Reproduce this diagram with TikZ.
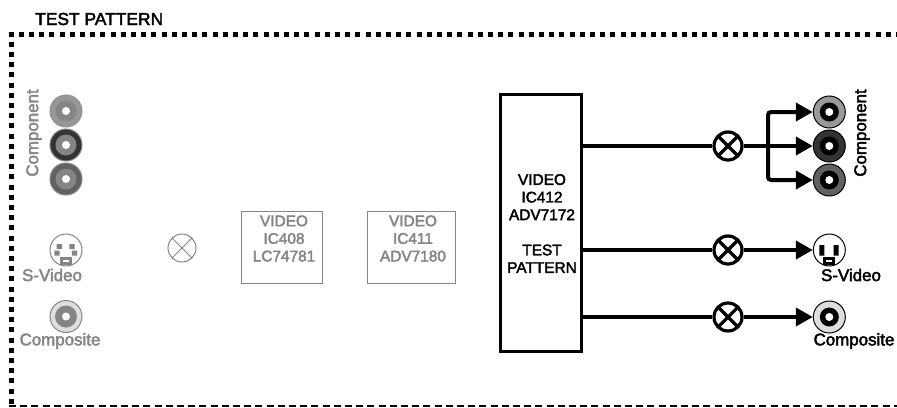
\documentclass[tikz,border=0pt]{standalone}
\usepackage{fontspec}
\setmainfont{Liberation Sans}
\newfontfamily\fbsans[FakeBold=2.5]{Liberation Sans}
\usetikzlibrary{arrows.meta}
\definecolor{fade}{HTML}{858585}
\tikzset{
  x=1pt,y=-1pt,
  txt/.style={inner sep=0pt,font=\fbsans\fontsize{15.4}{17.6}\selectfont,align=center},
  lbl/.style={inner sep=0pt,font=\fbsans\fontsize{16.9}{20}\selectfont,align=center},
  faded/.style={text=fade},
  chip/.style={draw=#1,rectangle,inner sep=0pt},
  mixer/.style={circle,draw=#1,fill=white,minimum size=28pt,inner sep=0pt,
    path picture={\draw[#1,line width=\pgflinewidth]
      (path picture bounding box.north west)--(path picture bounding box.south east)
      (path picture bounding box.north east)--(path picture bounding box.south west);}},
  jack/.style n args={2}{circle,draw=#1,fill=#2,minimum size=32pt,inner sep=0pt,line width=1pt},
  disc/.style={circle,fill=#1,inner sep=0pt},
  link/.style={line width=4pt,draw=black},
  arr/.style={link,-{Triangle[length=17pt,width=18pt]}},
}
\newcommand{\rca}[7]{% name,x,y,outline,ring,inner,inner size
  \node[jack={#4}{#5}] (#1) at (#2,#3) {};
  \node[disc=#6,minimum size=#7pt] at (#1) {};
  \node[disc=white,minimum size=8pt] at (#1) {};
}
\newcommand{\svid}[4]{% name,x,y,colour
  \node[jack={#4}{white}] (#1) at (#2,#3) {};
  \fill[#4] (#2-6,#3+7) rectangle ++(12,8);
  \fill[white] (#2-3,#3+9.5) rectangle ++(6,2);
}
\begin{document}
\begin{tikzpicture}
\useasboundingbox (0,0) rectangle (897,407);
\fill[white] (0,0) rectangle (897,407);
% border
\coordinate (tl) at (8.5,34);
\coordinate (tr) at (897,34);
\coordinate (lt) at (11,31.5);
\coordinate (lb) at (11,405);
\coordinate (bl) at (9,405.8);
\coordinate (br) at (897,405.8);
\draw[line width=5pt,dash pattern=on 5pt off 5.2pt] (tl)--(tr);
\draw[line width=5pt,dash pattern=on 5pt off 5.2pt] (lt)--(lb);
\draw[line width=1.8pt,dash pattern=on 7pt off 4.2pt] (bl)--(br);
\node[lbl,font=\fbsans\fontsize{17.4}{20}\selectfont,anchor=base west] (title) at (35,25) {TEST PATTERN};
% input side (faded)
\rca{la}{66}{111}{fade!90}{fade!85}{fade}{21}
\rca{lb1}{66}{145}{fade}{black!80}{fade}{21}
\rca{lc}{66}{179}{fade}{black!62}{fade}{21}
\node[lbl,faded,rotate=90] (lcomp) at (34,133) {Component};
\svid{ls}{66}{250}{fade}
\fill[fade] (56.7,244) rectangle ++(5.3,5.2) (69.3,244) rectangle ++(5.3,5.2)
            (54.3,250.7) rectangle ++(5.2,4.8) (71.8,250.7) rectangle ++(5.2,4.8);
\node[lbl,faded] (lsv) at (52,275) {S-Video};
\rca{lcv}{66}{316.5}{fade}{black!13}{fade}{22}
\node[lbl,faded] (lcvt) at (60,341) {Composite};
\node[mixer=fade,line width=1pt] (lm) at (182,248) {};
\node[chip=fade,line width=1.1pt,minimum width=81pt,minimum height=71.5pt] (ic408) at (282.2,247.5) {};
\node[txt,faded] (ic408t) at (284,238.5) {VIDEO\\IC408\\LC74781};
\node[chip=fade,line width=1.1pt,minimum width=87.5pt,minimum height=71.5pt] (ic411) at (411.5,247.5) {};
\node[txt,faded] (ic411t) at (413,238.5) {VIDEO\\IC411\\ADV7180};
% test pattern block
\node[chip=black,line width=3pt,minimum width=81pt,minimum height=257pt] (ic412) at (541.2,223.3) {};
\node[txt] (ic412t) at (542,223.5) {VIDEO\\IC412\\ADV7172\\[17.6pt]TEST\\PATTERN};
\coordinate (o1) at (ic412.east |- 0,146);
\coordinate (o2) at (ic412.east |- 0,250);
\coordinate (o3) at (ic412.east |- 0,317);
\node[mixer=black,line width=3.2pt] (m1) at (728,146) {};
\node[mixer=black,line width=3.2pt] (m2) at (728,250) {};
\node[mixer=black,line width=3.2pt] (m3) at (728,317) {};
% output jacks
\rca{ra}{829.3}{112}{black}{black!40}{black}{19}
\rca{rb}{829.3}{146}{black}{black!80}{black}{19}
\rca{rc}{829.3}{180}{black}{black!62}{black}{19}
\svid{rs}{829.3}{250}{black}
\fill[black] (819.3,245) rectangle ++(5,10.5) (833.5,245) rectangle ++(5,10.5);
\rca{rcv}{829.3}{317}{black}{black!13}{black}{19}
\node[lbl,rotate=90] (rcomp) at (862,133) {Component};
\node[lbl] (rsv) at (851,275) {S-Video};
\node[lbl] (rcvt) at (854,341) {Composite};
% connectors
\coordinate (branch) at (768,146);
\draw[link] (o1)--(m1);
\draw[link] (o2)--(m2);
\draw[link] (o3)--(m3);
\draw[arr] (m1)--(rb);
\draw[arr,rounded corners=3pt] (branch)--(branch |- ra)--(ra);
\draw[arr,rounded corners=3pt] (branch)--(branch |- rc)--(rc);
\draw[arr] (m2)--(rs);
\draw[arr] (m3)--(rcv);
\end{tikzpicture}
\end{document}
